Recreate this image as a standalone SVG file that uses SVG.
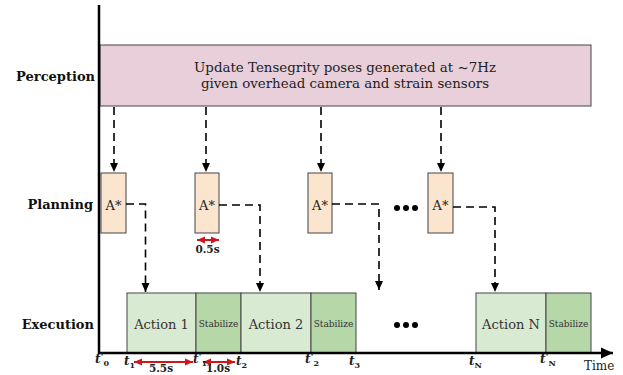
<svg xmlns="http://www.w3.org/2000/svg" width="623" height="375" viewBox="0 0 623 375">
<defs>
<marker id="ah" markerWidth="10" markerHeight="10" refX="9" refY="5" orient="auto" markerUnits="userSpaceOnUse">
<path d="M0,1 L9,5 L0,9 Z" fill="#000"/>
</marker>
<marker id="rh" markerWidth="10" markerHeight="10" refX="8" refY="5" orient="auto-start-reverse" markerUnits="userSpaceOnUse">
<path d="M0,1.5 L8,5 L0,8.5 Z" fill="#d0161b"/>
</marker>
<marker id="ax" markerWidth="14" markerHeight="14" refX="12" refY="7" orient="auto" markerUnits="userSpaceOnUse">
<path d="M0,1.5 L12,7 L0,12.5 Z" fill="#000"/>
</marker>
</defs>
<style>
.lbl{font-family:"DejaVu Serif","Liberation Serif",serif;font-weight:bold;font-size:13px;fill:#111}
.txt{font-family:"DejaVu Serif","Liberation Serif",serif;font-size:13.4px;fill:#222}
.astar{font-family:"DejaVu Serif","Liberation Serif",serif;font-size:13px;fill:#222;text-anchor:middle}
.act{font-family:"DejaVu Serif","Liberation Serif",serif;font-size:13px;fill:#333;text-anchor:middle}
.stab{font-family:"DejaVu Serif","Liberation Serif",serif;font-size:9px;fill:#333;text-anchor:middle}
.dur{font-family:"DejaVu Serif","Liberation Serif",serif;font-weight:bold;font-size:10.5px;fill:#222;text-anchor:middle}
.tl{font-family:"DejaVu Serif","Liberation Serif",serif;font-weight:bold;font-style:italic;font-size:12px;fill:#222}
.sub{font-size:8px;font-style:normal}
.pr{font-size:10px;font-style:normal}
.plan{fill:#fbe5cf;stroke:#444;stroke-width:1}
.actbox{fill:#d9ead3;stroke:#444;stroke-width:1}
.stabbox{fill:#b6d7a8;stroke:#444;stroke-width:1}
.dash{fill:none;stroke:#000;stroke-width:1.6;stroke-dasharray:8,5}
.red{stroke:#d0161b;stroke-width:2;fill:none}
.dot{fill:#000}
</style>

<!-- row labels -->
<text class="lbl" x="95" y="81" text-anchor="end">Perception</text>
<text class="lbl" x="93" y="209" text-anchor="end">Planning</text>
<text class="lbl" x="94" y="329" text-anchor="end">Execution</text>

<!-- perception -->
<g id="perception">
<rect x="100" y="45" width="491" height="61" fill="#e8cfda" stroke="#444" stroke-width="1"/>
<text class="txt" x="345" y="72" text-anchor="middle">Update Tensegrity poses generated at ~7Hz</text>
<text class="txt" x="345" y="88" text-anchor="middle">given overhead camera and strain sensors</text>
</g>

<!-- planning -->
<g id="plan1"><rect class="plan" x="101" y="173" width="25" height="60"/><text class="astar" x="113.5" y="210">A*</text></g>
<g id="plan2"><rect class="plan" x="195" y="173" width="24" height="60"/><text class="astar" x="207" y="210">A*</text></g>
<g id="plan3"><rect class="plan" x="308" y="173" width="24" height="60"/><text class="astar" x="320" y="210">A*</text></g>
<g id="plan4"><rect class="plan" x="428" y="173" width="25" height="60"/><text class="astar" x="440.5" y="210">A*</text></g>
<g id="dotsPlan"><circle class="dot" cx="397" cy="208" r="3"/><circle class="dot" cx="406" cy="208" r="3"/><circle class="dot" cx="415" cy="208" r="3"/></g>

<!-- execution -->
<g id="action1"><rect class="actbox" x="127" y="293" width="69" height="60"/><text class="act" x="161.5" y="329">Action 1</text></g>
<g id="stab1"><rect class="stabbox" x="196" y="293" width="45" height="60"/><text class="stab" x="218.5" y="327">Stabilize</text></g>
<g id="action2"><rect class="actbox" x="241" y="293" width="70" height="60"/><text class="act" x="276" y="329">Action 2</text></g>
<g id="stab2"><rect class="stabbox" x="311" y="293" width="45" height="60"/><text class="stab" x="333.5" y="327">Stabilize</text></g>
<g id="actionN"><rect class="actbox" x="476" y="293" width="70" height="60"/><text class="act" x="511" y="329">Action N</text></g>
<g id="stabN"><rect class="stabbox" x="546" y="293" width="45" height="60"/><text class="stab" x="568.5" y="327">Stabilize</text></g>
<g id="dotsExec"><circle class="dot" cx="397" cy="325" r="3"/><circle class="dot" cx="406" cy="325" r="3"/><circle class="dot" cx="415" cy="325" r="3"/></g>

<!-- axes -->
<g id="axes">
<line x1="99" y1="5" x2="99" y2="354" stroke="#000" stroke-width="2.5"/>
<line x1="98" y1="353" x2="613" y2="353" stroke="#000" stroke-width="2.5" marker-end="url(#ax)"/>
<text class="txt" x="584" y="370" style="font-size:12px">Time</text>
</g>

<!-- connectors -->
<g id="connectors">
<line class="dash" x1="114" y1="107" x2="114" y2="172" marker-end="url(#ah)"/>
<line class="dash" x1="206" y1="107" x2="206" y2="172" marker-end="url(#ah)"/>
<line class="dash" x1="321" y1="107" x2="321" y2="172" marker-end="url(#ah)"/>
<line class="dash" x1="441" y1="107" x2="441" y2="172" marker-end="url(#ah)"/>
<path class="dash" d="M126,204 H145.5 V292" marker-end="url(#ah)"/>
<path class="dash" d="M219,205 H260 V292" marker-end="url(#ah)"/>
<path class="dash" d="M332,204 H379 V290" marker-end="url(#ah)"/>
<path class="dash" d="M453,207 H495 V292" marker-end="url(#ah)"/>
</g>

<!-- durations -->
<g id="durations">
<line class="red" x1="197" y1="240" x2="219" y2="240" marker-start="url(#rh)" marker-end="url(#rh)"/>
<text class="dur" x="207.5" y="253">0.5s</text>
<line class="red" x1="134" y1="362" x2="193" y2="362" marker-start="url(#rh)" marker-end="url(#rh)"/>
<text class="dur" x="161" y="372">5.5s</text>
<line class="red" x1="203" y1="362" x2="235" y2="362" marker-start="url(#rh)" marker-end="url(#rh)"/>
<text class="dur" x="218" y="372">1.0s</text>
</g>

<!-- time labels -->
<g id="timeLabels">
<text class="tl" x="95" y="363">t<tspan class="pr" dy="-3">'</tspan><tspan class="sub" dy="6">0</tspan></text>
<text class="tl" x="124" y="365">t<tspan class="sub" dy="3">1</tspan></text>
<text class="tl" x="193" y="363">t<tspan class="pr" dy="-3">'</tspan><tspan class="sub" dy="6">1</tspan></text>
<text class="tl" x="236" y="365">t<tspan class="sub" dy="3">2</tspan></text>
<text class="tl" x="305" y="363">t<tspan class="pr" dy="-3">'</tspan><tspan class="sub" dy="6">2</tspan></text>
<text class="tl" x="349" y="365">t<tspan class="sub" dy="3">3</tspan></text>
<text class="tl" x="469" y="365">t<tspan class="sub" dy="3">N</tspan></text>
<text class="tl" x="540" y="363">t<tspan class="pr" dy="-3">'</tspan><tspan class="sub" dy="6">N</tspan></text>
</g>
</svg>
